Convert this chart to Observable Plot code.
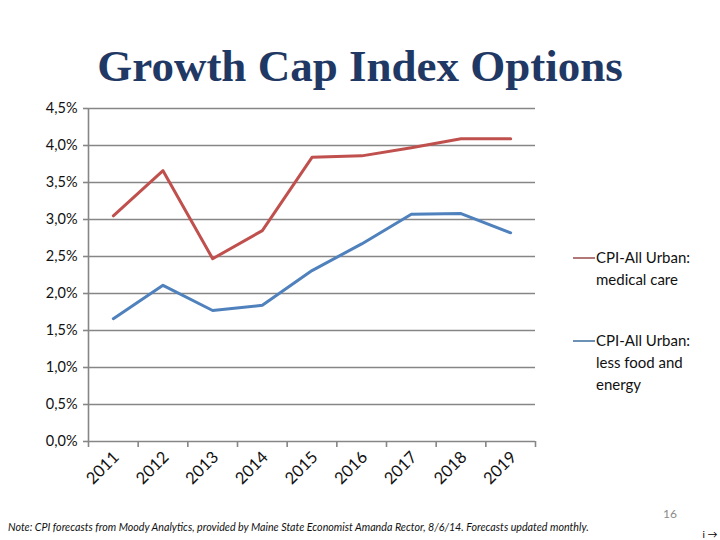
<!DOCTYPE html>
<html>
<head>
<meta charset="utf-8">
<script src="https://cdn.jsdelivr.net/npm/d3@7"></script>
<script src="https://cdn.jsdelivr.net/npm/@observablehq/plot@0.6"></script>
<style>
  body { margin: 0; background: #fff; }
  #wrap { position: relative; width: 720px; height: 540px; overflow: hidden; font-family: Lato, "Open Sans", sans-serif; }
  #title { position: absolute; left: 0; width: 720px; top: 40px; text-align: center; font-family: "Liberation Serif", serif; font-weight: bold; font-size: 45px; color: #1f3864; }
  #chart { position: absolute; left: 0; top: 0; }
  .leg { position: absolute; left: 573px; font-size: 15px; color: #111; line-height: 22px; }
  .leg .sw { display: inline-block; width: 22px; height: 2px; vertical-align: middle; margin-right: 1px; position: relative; top: -1px; }
  .leg .txt { display: inline-block; vertical-align: top; }
  #note { position: absolute; left: 8px; top: 520px; font-size: 10.7px; font-style: italic; color: #111; white-space: nowrap; }
  #page { position: absolute; left: 663px; top: 506px; font-size: 12px; color: #8a8a8a; }
</style>
</head>
<body>
<div id="wrap">
  <div id="chart"></div>
  <div id="title">Growth Cap Index Options</div>
  <div class="leg" style="top:246px"><span class="sw" style="background:#b07878"></span><span class="txt">CPI-All Urban:<br>medical care</span></div>
  <div class="leg" style="top:329px"><span class="sw" style="background:#6d90b5"></span><span class="txt">CPI-All Urban:<br>less food and<br>energy</span></div>
  <div id="note">Note: CPI forecasts from Moody Analytics, provided by Maine State Economist Amanda Rector, 8/6/14. Forecasts updated monthly.</div>
  <div id="page">16</div>
</div>
<script>
const years = ["2011","2012","2013","2014","2015","2016","2017","2018","2019"];
const medicalCare = [0.0305, 0.0366, 0.0247, 0.0285, 0.0384, 0.0386, 0.0397, 0.0409, 0.0409];
const lessFoodEnergy = [0.0166, 0.0211, 0.0177, 0.0184, 0.0231, 0.0267, 0.0307, 0.0308, 0.0282];
const yTicks = [0, 0.005, 0.01, 0.015, 0.02, 0.025, 0.03, 0.035, 0.04, 0.045];

const data = years.map((y, i) => ({i, year: y, medical: medicalCare[i], core: lessFoodEnergy[i]}));
const boundaries = d3.range(years.length + 1).map(k => k - 0.5);
const fmt = d => d3.format(".1%")(d).replace(".", ",");

const chart = Plot.plot({
  width: 720,
  height: 540,
  marginLeft: 88,
  marginRight: 185,
  marginTop: 108,
  marginBottom: 99,
  style: {fontFamily: "Lato, 'Open Sans', sans-serif", background: "transparent"},
  x: {domain: [-0.5, years.length - 0.5], axis: null},
  y: {domain: [0, 0.045], axis: null},
  marks: [
    Plot.ruleY(yTicks, {stroke: "#868686", strokeWidth: 1.6}),
    Plot.axisY({ticks: yTicks, tickFormat: fmt, tickSize: 5, tickPadding: 6, stroke: "#868686", strokeWidth: 1.6, fontSize: 14.5, fill: "#111"}),
    Plot.ruleX([-0.5], {stroke: "#868686", strokeWidth: 1.6}),
    Plot.axisX({ticks: boundaries, tickFormat: () => "", tickSize: 6, stroke: "#868686", strokeWidth: 1.6}),
    Plot.text(data, {x: "i", y: 0, text: "year", rotate: -45, textAnchor: "end", dx: 3, dy: 13, fontSize: 16.5, fill: "#111"}),
    Plot.line(data, {x: "i", y: "medical", stroke: "#c0504d", strokeWidth: 3}),
    Plot.line(data, {x: "i", y: "core", stroke: "#4f81bd", strokeWidth: 3})
  ]
});
document.getElementById("chart").appendChild(chart);
</script>
</body>
</html>
